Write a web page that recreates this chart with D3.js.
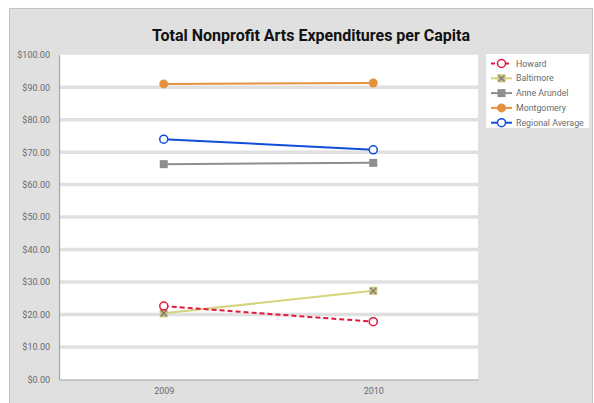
<!DOCTYPE html>
<html><head><meta charset="utf-8">
<script src="https://cdn.jsdelivr.net/npm/d3@7"></script>
<style>body{margin:0;background:#fff;}svg{display:block;font-family:Roboto,"Liberation Sans",sans-serif;}</style>
</head><body>
<svg id="c" width="594" height="403"></svg>
<script>
const years = ["2009", "2010"];
const seriesNames = ["Howard", "Baltimore", "Anne Arundel", "Montgomery", "Regional Average"];
const howard = [22.6, 17.8];
const baltimore = [20.4, 27.3];
const anneArundel = [66.3, 66.7];
const montgomery = [91.0, 91.3];
const regionalAverage = [74.0, 70.7];
const yTicks = [0, 10, 20, 30, 40, 50, 60, 70, 80, 90, 100];
const title = "Total Nonprofit Arts Expenditures per Capita";

const styles = [
  {color: "#e3173f", dash: "5,3", marker: "opencircle"},
  {color: "#d5d47c", dash: null, marker: "xsquare"},
  {color: "#8e8e8e", dash: null, marker: "square"},
  {color: "#e5913f", dash: null, marker: "circle"},
  {color: "#0e4ed8", dash: null, marker: "opencircle"}
];
const values = [howard, baltimore, anneArundel, montgomery, regionalAverage];

const svg = d3.select("#c");
svg.append("rect").attr("x", 9.5).attr("y", 8.5).attr("width", 583).attr("height", 400)
  .attr("fill", "#e0e0e0").attr("stroke", "#c4c4c4");

const L = 59, R = 478, T = 54.7, B = 379.5;
const x = d3.scalePoint().domain(years).range([L, R]).padding(0.5);
const y = d3.scaleLinear().domain([0, 100]).range([B, T]);

svg.append("rect").attr("x", L).attr("y", T).attr("width", R - L).attr("height", B - T).attr("fill", "#fff");

svg.append("text").attr("x", 311).attr("y", 41).attr("text-anchor", "middle")
  .attr("font-size", 16).attr("font-weight", 700).attr("fill", "#111").text(title);

// gridlines
svg.append("g").selectAll("line").data(yTicks.filter(t => t > 0 && t < 100)).join("line")
  .attr("x1", L).attr("x2", R).attr("y1", d => y(d)).attr("y2", d => y(d))
  .attr("stroke", "#e0e0e0").attr("stroke-width", 3.5);

// y axis
const ya = svg.append("g").attr("transform", `translate(${L},0)`)
  .call(d3.axisLeft(y).tickValues(yTicks).tickFormat(d => "$" + d3.format(".2f")(d)).tickSize(0).tickPadding(9));
ya.select(".domain").attr("stroke", "#a6a6a6").attr("stroke-width", 1.2);
ya.selectAll("text").attr("font-size", 9).attr("fill", "#6b6b6b").attr("font-family", "Roboto,sans-serif");

// x axis
const xa = svg.append("g").attr("transform", `translate(0,${B})`)
  .call(d3.axisBottom(x).tickSize(0).tickPadding(8));
xa.select(".domain").attr("stroke", "#a6a6a6").attr("stroke-width", 1.2);
xa.selectAll("text").attr("font-size", 9).attr("fill", "#6b6b6b").attr("font-family", "Roboto,sans-serif");

function drawMarker(g, type, color, cx, cy) {
  if (type === "opencircle") {
    g.append("circle").attr("cx", cx).attr("cy", cy).attr("r", 4).attr("fill", "#fff").attr("stroke", color).attr("stroke-width", 1.5);
  } else if (type === "circle") {
    g.append("circle").attr("cx", cx).attr("cy", cy).attr("r", 4.5).attr("fill", color);
  } else if (type === "square") {
    g.append("rect").attr("x", cx - 4).attr("y", cy - 4).attr("width", 8).attr("height", 8).attr("fill", color);
  } else if (type === "xsquare") {
    g.append("rect").attr("x", cx - 4).attr("y", cy - 4).attr("width", 8).attr("height", 8).attr("fill", "#c9c47a");
    g.append("path").attr("d", `M${cx-3},${cy-3}L${cx+3},${cy+3}M${cx-3},${cy+3}L${cx+3},${cy-3}`)
      .attr("stroke", "#7a7080").attr("stroke-width", 1.2);
  }
}

const line = d3.line().x((d, i) => x(years[i])).y(d => y(d));
const order = [2, 1, 0, 3, 4];
order.forEach(si => {
  const st = styles[si];
  const g = svg.append("g");
  g.append("path").datum(values[si]).attr("d", line).attr("fill", "none")
    .attr("stroke", st.color).attr("stroke-width", 2).attr("stroke-dasharray", st.dash);
  values[si].forEach((v, i) => drawMarker(g, st.marker, st.color, x(years[i]), y(v)));
});

// legend
svg.append("rect").attr("x", 486).attr("y", 54).attr("width", 103).attr("height", 74).attr("fill", "#fff");
seriesNames.forEach((n, i) => {
  const st = styles[i];
  const ly = 63.5 + i * 14.8;
  const g = svg.append("g");
  g.append("line").attr("x1", 491).attr("x2", 512).attr("y1", ly).attr("y2", ly)
    .attr("stroke", st.color).attr("stroke-width", 2).attr("stroke-dasharray", st.dash ? "4,3" : null);
  drawMarker(g, st.marker, st.color, 501.5, ly);
  g.append("text").attr("x", 516).attr("y", ly + 3).attr("font-size", 8.8).attr("fill", "#6b6b6b").text(n);
});
</script>
</body></html>
